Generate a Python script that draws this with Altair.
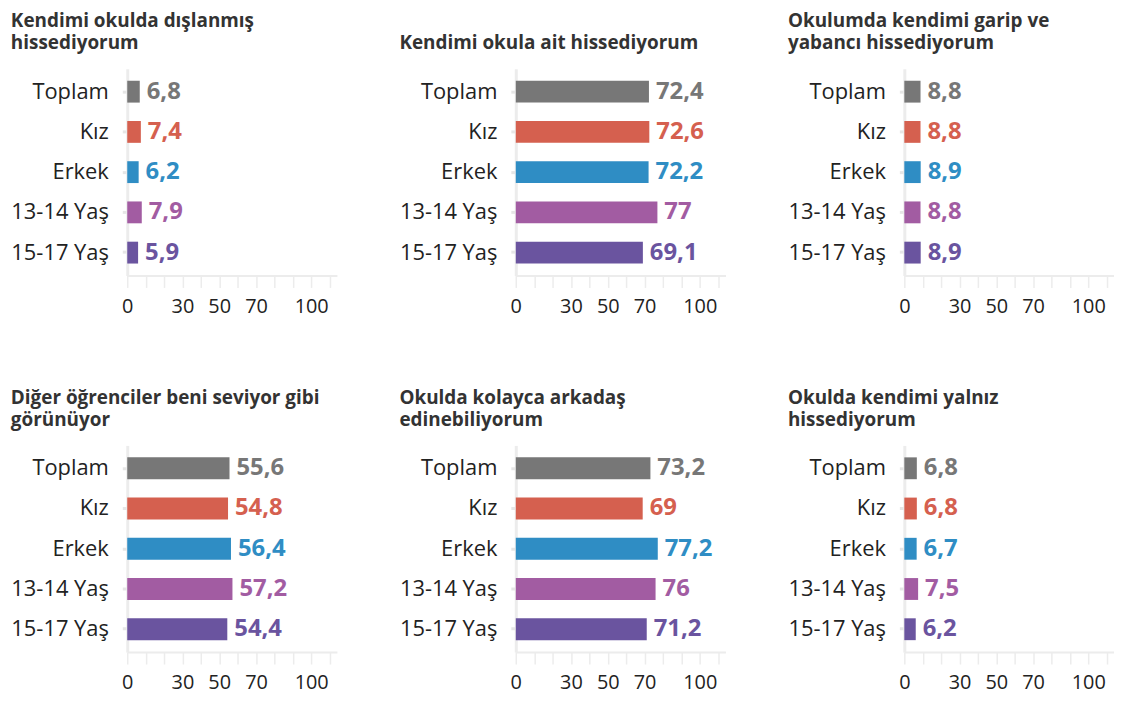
import altair as alt
import pandas as pd

categories = ["Toplam", "Kız", "Erkek", "13-14 Yaş", "15-17 Yaş"]
colors = ["#777777", "#d5604f", "#2f8dc4", "#a25ca2", "#6a549f"]

titles = [
    ["Kendimi okulda dışlanmış", "hissediyorum"],
    ["", "Kendimi okula ait hissediyorum"],
    ["Okulumda kendimi garip ve", "yabancı hissediyorum"],
    ["Diğer öğrenciler beni seviyor gibi", "görünüyor"],
    ["Okulda kolayca arkadaş", "edinebiliyorum"],
    ["Okulda kendimi yalnız", "hissediyorum"],
]

v_dislanmis = [6.8, 7.4, 6.2, 7.9, 5.9]
v_ait = [72.4, 72.6, 72.2, 77, 69.1]
v_garip = [8.8, 8.8, 8.9, 8.8, 8.9]
v_seviyor = [55.6, 54.8, 56.4, 57.2, 54.4]
v_arkadas = [73.2, 69, 77.2, 76, 71.2]
v_yalniz = [6.8, 6.8, 6.7, 7.5, 6.2]

series = [v_dislanmis, v_ait, v_garip, v_seviyor, v_arkadas, v_yalniz]

tick_values = list(range(0, 120, 10))
shown_labels = [0, 30, 50, 70, 100]

FONT = "Open Sans"


def panel(title, values):
    df = pd.DataFrame({"cat": categories, "value": values})
    color = alt.Color("cat:N", scale=alt.Scale(domain=categories, range=colors), legend=None)
    base = alt.Chart(df).transform_calculate(
        label="replace('' + datum.value, '.', ',')"
    ).encode(
        y=alt.Y(
            "cat:N",
            sort=categories,
            scale=alt.Scale(paddingInner=0.457, paddingOuter=0.297),
            axis=alt.Axis(
                title=None,
                domainColor="#ececec",
                domainWidth=3,
                tickColor="#e6e6e6",
                tickSize=5,
                tickWidth=3,
                labelFontSize=22,
                labelColor="#222222",
                labelPadding=14,
                labelFont=FONT,
            ),
        ),
        x=alt.X(
            "value:Q",
            scale=alt.Scale(domain=[0, 114], nice=False),
            axis=alt.Axis(
                title=None,
                values=tick_values,
                labelExpr="indexof(%s, datum.value) >= 0 ? datum.label : ''" % str(shown_labels),
                grid=False,
                domainColor="#ececec",
                domainWidth=2,
                tickColor="#ececec",
                tickWidth=1.5,
                tickSize=12,
                labelFontSize=20,
                labelColor="#222222",
                labelPadding=9,
                labelFont=FONT,
                labelFlush=False,
                labelOverlap=False,
            ),
        ),
        color=color,
    )
    bars = base.mark_bar()
    text = base.mark_text(align="left", baseline="middle", dx=7, fontSize=24,
                          fontWeight="bold", font=FONT).encode(text="label:N")
    return (bars + text).properties(
        width=211,
        height=208,
        title=alt.TitleParams(
            text=title,
            anchor="start",
            frame="bounds",
            fontSize=19,
            fontWeight="bold",
            color="#333333",
            font=FONT,
            lineHeight=22,
            offset=16,
        ),
    )


charts = [panel(t, v) for t, v in zip(titles, series)]
chart = alt.concat(
    *charts, columns=3, spacing=alt.RowColnumber(row=171, column=180), bounds="flush"
).properties(
    padding={"left": 2, "top": 2, "right": 0, "bottom": 2}
).configure_view(stroke=None)

chart.save("out.html", embed_options={"renderer": "svg", "actions": False})
